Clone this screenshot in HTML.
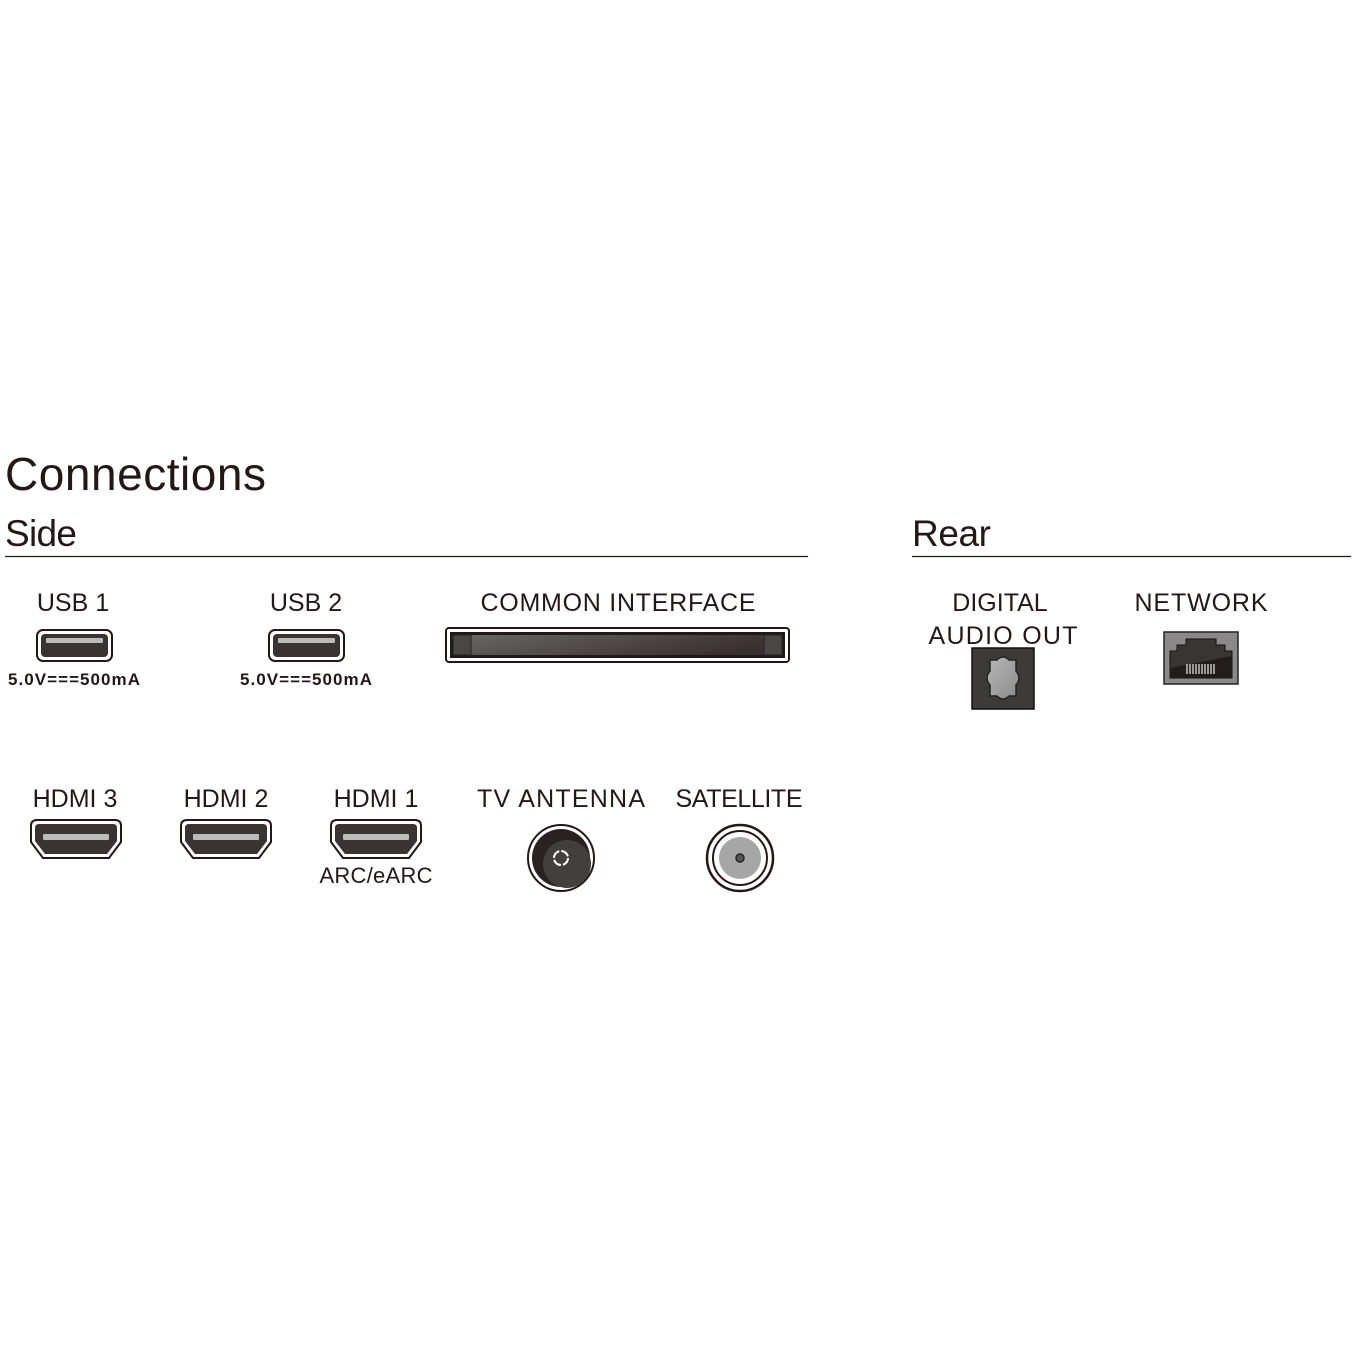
<!DOCTYPE html>
<html><head><meta charset="utf-8"><style>
html,body{margin:0;padding:0;background:#fff}
svg{display:block}
text{font-family:"Liberation Sans",sans-serif;fill:#231815}
</style></head><body>
<svg width="1352" height="1352" viewBox="0 0 1352 1352" xmlns="http://www.w3.org/2000/svg">
<defs>
<linearGradient id="ci" x1="0" y1="0" x2="1" y2="0.3">
<stop offset="0" stop-color="#6a6868"/><stop offset="1" stop-color="#3a3030"/></linearGradient>
<linearGradient id="op" x1="0" y1="0" x2="1" y2="1">
<stop offset="0" stop-color="#b8b8b8"/><stop offset="1" stop-color="#8a8a8a"/></linearGradient>
<g id="usb">
<rect x="0" y="0" width="75" height="31" rx="6" fill="#fff" stroke="#231815" stroke-width="2"/>
<rect x="4" y="4" width="67" height="23" rx="4" fill="#3a3333"/>
<rect x="9" y="8" width="57" height="5" rx="1" fill="#bbb"/>
</g>
<g id="hdmi">
<path d="M6 0 H84 Q90 0 90 6 V22 L78 38 H12 L0 22 V6 Q0 0 6 0 Z" fill="#fff" stroke="#231815" stroke-width="2"/>
<path d="M8 4 H82 Q86 4 86 8 V21 L76 34 H14 L4 21 V8 Q4 4 8 4 Z" fill="#3a3333"/>
<rect x="12" y="14" width="66" height="6" rx="1" fill="#bbb"/>
</g>
</defs>

<text x="5" y="490" font-size="46" textLength="261">Connections</text>
<text x="5" y="546" font-size="37" textLength="72">Side</text>
<text x="912" y="546" font-size="37" textLength="79">Rear</text>
<line x1="5" y1="556.5" x2="808" y2="556.5" stroke="#231815" stroke-width="1.2"/>
<line x1="912" y1="556.5" x2="1351" y2="556.5" stroke="#231815" stroke-width="1.2"/>

<g font-size="25" text-anchor="middle">
<text x="73" y="611">USB 1</text>
<text x="306" y="611">USB 2</text>
<text x="618" y="611" textLength="275">COMMON INTERFACE</text>
<text x="1000" y="611">DIGITAL</text>
<text x="1003" y="644" textLength="149">AUDIO OUT</text>
<text x="1201" y="611" textLength="133">NETWORK</text>
<text x="75" y="807">HDMI 3</text>
<text x="226" y="807">HDMI 2</text>
<text x="376" y="807">HDMI 1</text>
<text x="561" y="807" textLength="168">TV ANTENNA</text>
<text x="739" y="807" textLength="127">SATELLITE</text>
<text x="376" y="883" font-size="22" textLength="113">ARC/eARC</text>
</g>
<g font-size="17" font-weight="bold">
<text x="8" y="685" textLength="132">5.0V===500mA</text>
<text x="240" y="685" textLength="132">5.0V===500mA</text>
</g>

<use href="#usb" x="37" y="630"/>
<use href="#usb" x="269" y="630"/>

<rect x="446" y="628" width="343" height="34" rx="3" fill="#fff" stroke="#231815" stroke-width="2"/>
<rect x="450" y="632" width="335" height="26" fill="#1e1a1a"/>
<rect x="453" y="635" width="329" height="20" fill="url(#ci)"/>
<rect x="453" y="635" width="18" height="20" fill="#4a4646" stroke="#222" stroke-width="1"/>
<rect x="764" y="635" width="18" height="20" fill="#4a4646" stroke="#222" stroke-width="1"/>

<rect x="972" y="648" width="62" height="61" fill="#3e3a3a" stroke="#111" stroke-width="1.5"/>
<path d="M990 660 H997 Q1003 654 1009 660 H1016 V671 Q1022 678 1016 685 V696 H1009 Q1003 702 997 696 H990 V685 Q984 678 990 671 Z" fill="url(#op)" stroke="#222" stroke-width="1.5"/>

<rect x="1164" y="632" width="74" height="52" fill="#8a8888" stroke="#222" stroke-width="1.5"/>
<path d="M1170 678 V651 H1177 V645 H1186 V639 H1216 V645 H1225 V651 H1232 V678 Z" fill="#3a3535" stroke="#111" stroke-width="1"/>
<path d="M1170 678 V668 L1232 656 V678 Z" fill="#221c1c"/>
<g stroke="#ddd" stroke-width="1.3">
<line x1="1187" y1="664" x2="1187" y2="674"/><line x1="1190" y1="664" x2="1190" y2="674"/>
<line x1="1193" y1="664" x2="1193" y2="674"/><line x1="1196" y1="664" x2="1196" y2="674"/>
<line x1="1199" y1="664" x2="1199" y2="674"/><line x1="1202" y1="664" x2="1202" y2="674"/>
<line x1="1205" y1="664" x2="1205" y2="674"/><line x1="1208" y1="664" x2="1208" y2="674"/>
<line x1="1211" y1="664" x2="1211" y2="674"/><line x1="1214" y1="664" x2="1214" y2="674"/>
</g>

<use href="#hdmi" x="31" y="820"/>
<use href="#hdmi" x="181" y="820"/>
<use href="#hdmi" x="331" y="820"/>

<circle cx="561" cy="858" r="33" fill="#fff" stroke="#231815" stroke-width="2"/>
<circle cx="561" cy="858" r="29" fill="#2a2222"/>
<circle cx="567" cy="864" r="24" fill="#443f3f"/>
<circle cx="561" cy="858" r="7" fill="none" stroke="#fff" stroke-width="2" stroke-dasharray="9 2"/>

<circle cx="740" cy="858" r="33" fill="#fff" stroke="#231815" stroke-width="2.5"/>
<circle cx="740" cy="858" r="27" fill="#fff" stroke="#231815" stroke-width="2"/>
<circle cx="740" cy="858" r="21" fill="#a6a6a6"/>
<circle cx="740" cy="858" r="4" fill="#555" stroke="#222" stroke-width="1.5"/>
</svg>
</body></html>
